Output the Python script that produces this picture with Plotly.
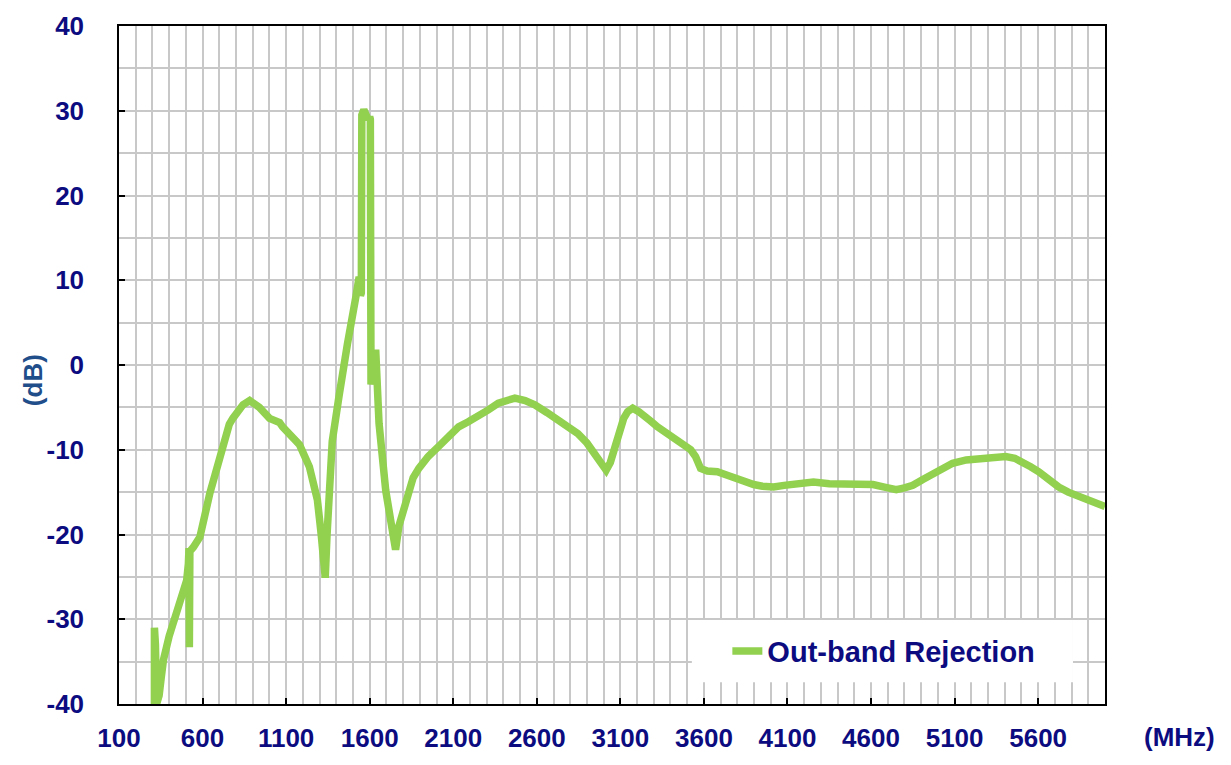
import plotly.graph_objects as go

# 주파수 (MHz) / 감쇠량 (dB) - 그림에서 읽은 값
freq_mhz = [
    312, 312, 318, 325, 340, 352, 366, 400, 446, 480, 505, 515, 519, 521, 524, 545,
    584, 644, 700, 722, 760, 781, 842, 882, 940, 1001, 1061, 1079, 1130, 1180,
    1239, 1287, 1310, 1334, 1345, 1376, 1418, 1437, 1467, 1517, 1537, 1545, 1550,
    1553, 1565, 1590, 1600, 1604, 1608, 1636, 1642, 1656, 1696, 1730, 1755, 1775,
    1815, 1860, 1894, 1950, 2013, 2072, 2132, 2190, 2251, 2310, 2370, 2420, 2469,
    2530, 2588, 2660, 2727, 2790, 2846, 2900, 2946, 2985, 3015, 3040, 3084, 3120,
    3144, 3174, 3210, 3243, 3280, 3322, 3380, 3441, 3490, 3521, 3550, 3580, 3620,
    3680, 3740, 3799, 3858, 3898, 3950, 4017, 4080, 4150, 4255, 4350, 4453, 4530,
    4612, 4680, 4751, 4800, 4850, 4910, 4969, 5030, 5088, 5170, 5247, 5330, 5406,
    5460, 5505, 5555, 5604, 5660, 5723, 5780, 5842, 5910, 5971, 6000,
]
rejection_db = [
    -40.0, -31.0, -33.0, -40.0, -39.0, -37.0, -34.8, -32.0, -29.3, -27.0, -25.4, -23.5, -21.6, -33.3, -22.0, -21.5,
    -20.3, -15.1, -11.0, -9.2, -7.0, -6.3, -4.7, -4.2, -5.0, -6.3, -6.8, -7.3, -8.3, -9.4,
    -12.0, -15.9, -20.0, -25.1, -20.0, -9.0, -3.5, -0.5, 2.5, 8.0, 10.4, 8.2, 8.5,
    29.5, 30.1, 29.0, 29.3, 29.0, -2.3, 1.8, -3.5, -6.9, -14.8, -19.0, -21.8, -19.0,
    -15.9, -13.3, -12.2, -10.8, -9.6, -8.3, -7.3, -6.7, -6.1, -5.3, -4.5, -4.1, -3.9,
    -4.2, -4.7, -5.6, -6.5, -7.3, -8.1, -9.2, -10.4, -11.7, -12.4, -11.5, -8.5, -6.3,
    -5.5, -5.1, -5.5, -5.9, -6.6, -7.3, -8.1, -8.9, -9.5, -10.0, -10.8, -12.2, -12.5,
    -12.6, -13.0, -13.4, -14.0, -14.1, -14.3, -14.4, -14.2, -14.0, -13.8, -14.0, -14.0, -14.1,
    -14.1, -14.4, -14.7, -14.5, -14.2, -13.5, -12.8, -12.1, -11.6, -11.2, -11.0, -10.9, -10.8,
    -11.0, -11.4, -12.0, -12.6, -13.5, -14.4, -15.0, -15.5, -16.0, -16.5, -16.7,
]

x_ticks = [100, 600, 1100, 1600, 2100, 2600, 3100, 3600, 4100, 4600, 5100, 5600]
y_ticks = [-40, -30, -20, -10, 0, 10, 20, 30, 40]

NAVY = '#0c0c80'
GRID = '#c8c8c8'
FONT = 'Arial, Liberation Sans, sans-serif'

fig = go.Figure()
fig.add_trace(go.Scatter(
    x=freq_mhz, y=rejection_db, mode='lines', name='<b>Out-band Rejection</b>',
    line=dict(color='#92d050', width=7.5, shape='linear'),
))

fig.update_layout(
    width=1231, height=765,
    margin=dict(l=111, r=134, t=18, b=69),
    paper_bgcolor='white', plot_bgcolor='white',
    font=dict(family=FONT, color=NAVY),
    showlegend=True,
    legend=dict(
        x=0.617, y=0.078, xanchor='left', yanchor='middle',
        bgcolor='rgba(0,0,0,0)', font=dict(size=29, color=NAVY, family=FONT),
    ),
    shapes=[dict(
        type='rect', xref='paper', yref='paper', x0=0.581, x1=0.9675, y0=0.032, y1=0.124,
        fillcolor='white', line_width=0, layer='above',
    )],
    annotations=[
        dict(text='<b>(MHz)</b>', xref='paper', yref='paper', x=1.076, y=-0.049,
             xanchor='center', yanchor='middle',
             showarrow=False, font=dict(size=26, color=NAVY, family=FONT)),
        dict(text='<b>(dB)</b>', xref='paper', yref='paper', x=-0.087, y=0.478,
             xanchor='center', yanchor='middle',
             textangle=-90, showarrow=False, font=dict(size=26, color='#1f4e8a', family=FONT)),
    ],
)

fig.update_xaxes(
    range=[100, 6000], tickvals=x_ticks, ticktext=['<b>%d</b>' % v for v in x_ticks],
    showgrid=True, gridcolor=GRID, gridwidth=1.5,
    minor=dict(dtick=100, tick0=100, showgrid=True, gridcolor=GRID, gridwidth=1.5),
    ticks='inside', ticklen=6, tickcolor='black', tickwidth=1.5,
    showline=True, linecolor='black', linewidth=1.5, mirror=True,
    tickfont=dict(size=26, color=NAVY, family=FONT),
    ticklabelstandoff=10, zeroline=False, automargin=False,
)
fig.update_yaxes(
    range=[-40, 40], tickvals=y_ticks, ticktext=['<b>%d</b>' % v for v in y_ticks],
    showgrid=True, gridcolor=GRID, gridwidth=1.5,
    minor=dict(dtick=5, showgrid=True, gridcolor=GRID, gridwidth=1.5),
    ticks='inside', ticklen=6, tickcolor='black', tickwidth=1.5,
    showline=True, linecolor='black', linewidth=1.5, mirror=True,
    tickfont=dict(size=26, color=NAVY, family=FONT),
    ticklabelstandoff=28, zeroline=False, automargin=False,
)

fig.write_html("out.html")
